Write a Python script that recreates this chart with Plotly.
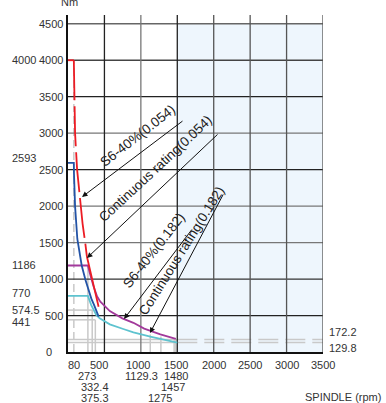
import numpy as np
import plotly.graph_objects as go

# ---------------- data ----------------
x_ticks = [80, 500, 1000, 1500, 2000, 2500, 3000, 3500]
x_row2 = [273, 1129.3, 1480]
x_row3 = [332.4, 1457]
x_row4 = [375.3, 1275]
y_ticks = [0, 500, 1000, 1500, 2000, 2500, 3000, 3500, 4000, 4500]
y_left_extra = [4000, 2593, 1186, 770, 574.5, 441]
y_right_extra = [172.2, 129.8]

# S6-40% (0.054) - red
red_top_rpm = [0, 80]
red_top_nm = [4000, 4000]
red_dash_rpm = [80, 84, 90, 97, 125, 168, 200, 236, 260]
red_dash_nm = [4000, 3700, 3400, 3000, 2500, 2050, 1760, 1500, 1305]
red_solid_rpm = [260, 300, 340, 380, 420]
red_solid_nm = [1305, 1120, 960, 790, 620]

# Continuous rating (0.054) - blue
blue_rpm = [0, 80, 82, 86, 97, 128, 160, 188, 240, 280, 319, 360, 388, 421]
blue_nm = [2593, 2593, 2450, 2250, 2000, 1550, 1330, 1186, 986, 850, 735, 640, 575, 484]

# S6-40% (0.182) - purple
pink_rpm = [0, 273, 300, 350, 400, 444, 574, 746, 898, 1046, 1268, 1480]
pink_nm = [1186, 1186, 1080, 900, 760, 690, 560, 461, 400, 320, 242, 180]

# Continuous rating (0.182) - cyan
cyan_rpm = [0, 273, 319, 388, 435, 574, 759, 898, 1129, 1360, 1500]
cyan_nm = [770, 770, 643, 507, 461, 379, 315, 270, 210, 164, 130]

label_texts = ["S6-40%(0.054)", "Continuous rating(0.054)",
               "S6-40%(0.182)", "Continuous rating(0.182)"]

# ---------------- layout constants ----------------
W, H = 386, 403
ML, MR, MT, MB = 68, 63, 15, 51
XMAX, YMAX = 3500, 4620
FONT = "Liberation Sans, Arial, Helvetica, sans-serif"
TXT = "#333333"
FS = 11

fig = go.Figure()

shapes = []
shapes.append(dict(type="rect", xref="x", yref="y", x0=1500, x1=3500, y0=0, y1=4500,
                   fillcolor="#EEF6FD", line=dict(width=0), layer="below"))

ref_col = "#C9C9C9"
def vref(x, y1, dash="solid"):
    shapes.append(dict(type="line", xref="x", yref="y", x0=x, x1=x, y0=0, y1=y1,
                       line=dict(color=ref_col, width=1.5, dash=dash), layer="below"))
def href(y, x0, x1, dash="solid"):
    shapes.append(dict(type="line", xref="x", yref="y", x0=x0, x1=x1, y0=y, y1=y,
                       line=dict(color=ref_col, width=1.5, dash=dash), layer="below"))

vref(80, 4000, dash="8px,4px")
vref(273, 1186)
vref(332.4, 574.5)
vref(375.3, 441)
for xv in [1129.3, 1275, 1457, 1480]:
    vref(xv, float(np.interp(xv, cyan_rpm, cyan_nm)) + 30)
href(574.5, 0, 332.4)
href(441, 0, 375.3)
for yv in y_right_extra:
    href(yv, 0, 1500)
    href(yv, 1500, 3500, dash="20px,7px")

hcol = {0: "#111", 500: "#222", 1000: "#333", 1500: "#777", 2000: "#777", 2500: "#222",
        3000: "#777", 3500: "#222", 4000: "#444", 4500: "#666"}
for yv in y_ticks[1:]:
    shapes.append(dict(type="line", xref="x", yref="y", x0=0, x1=3500, y0=yv, y1=yv,
                       line=dict(color=hcol[yv], width=1.3), layer="below"))
vcol = {500: "#222", 1000: "#777", 1500: "#222", 2000: "#555", 2500: "#555", 3000: "#555", 3500: "#555"}
for xv in x_ticks[1:]:
    shapes.append(dict(type="line", xref="x", yref="y", x0=xv, x1=xv, y0=0, y1=YMAX,
                       line=dict(color=vcol[xv], width=1.3), layer="below"))

lw = 1.8
RED, BLUE, PINK, CYAN = "#EC1C24", "#2353A6", "#A2399B", "#5EC3CF"
fig.add_trace(go.Scatter(x=cyan_rpm, y=cyan_nm, mode="lines", line=dict(color=CYAN, width=lw)))
fig.add_trace(go.Scatter(x=pink_rpm, y=pink_nm, mode="lines", line=dict(color=PINK, width=lw)))
fig.add_trace(go.Scatter(x=blue_rpm, y=blue_nm, mode="lines", line=dict(color=BLUE, width=lw)))
fig.add_trace(go.Scatter(x=red_top_rpm, y=red_top_nm, mode="lines", line=dict(color=RED, width=lw)))
fig.add_trace(go.Scatter(x=red_dash_rpm, y=red_dash_nm, mode="lines",
                         line=dict(color=RED, width=lw, dash="40px,6px")))
fig.add_trace(go.Scatter(x=red_solid_rpm, y=red_solid_nm, mode="lines", line=dict(color=RED, width=lw)))

ann = []
def tfont():
    return dict(size=FS, color=TXT, family=FONT)
for yv in y_ticks:
    if yv == 0:
        ann.append(dict(xref="paper", yref="y", x=0, y=yv, text="0", showarrow=False,
                        xanchor="center", yanchor="middle", xshift=-19, font=tfont()))
    else:
        ann.append(dict(xref="paper", yref="y", x=0, y=yv, text=str(yv), showarrow=False,
                        xanchor="right", yanchor="middle", xshift=-3, font=tfont()))
lshift = {4000: 0, 2593: 5, 1186: 0, 770: 3, 574.5: 0, 441: -2}
for yv in y_left_extra:
    ann.append(dict(xref="paper", yref="y", x=0, y=yv, text=f"{yv:g}", showarrow=False,
                    xanchor="left", yanchor="middle", xshift=-58, yshift=lshift[yv], font=tfont()))
rshift = {172.2: 7, 129.8: -5}
for yv in y_right_extra:
    ann.append(dict(xref="paper", yref="y", x=1, y=yv, text=f"{yv:g}", showarrow=False,
                    xanchor="left", yanchor="middle", xshift=4, yshift=rshift[yv], font=tfont()))
xshift = {80: 0, 500: -5, 1000: -3, 1500: -1, 1129.3: -9, 273: -1, 332.4: 3, 1457: -1, 1275: -1}
for row, ys in [(x_ticks, -13), (x_row2, -23.5), (x_row3, -34.5), (x_row4, -45.5)]:
    for xv in row:
        ann.append(dict(xref="x", yref="paper", x=xv, y=0, text=f"{xv:g}", showarrow=False,
                        xanchor="center", yanchor="middle", xshift=xshift.get(xv, 0), yshift=ys,
                        font=tfont()))
ann.append(dict(xref="paper", yref="paper", x=1, y=0, text="SPINDLE (rpm)", showarrow=False,
                xanchor="right", yanchor="middle", xshift=60, yshift=-45, font=tfont()))
ann.append(dict(xref="paper", yref="paper", x=0, y=1, text="Nm", showarrow=False,
                xanchor="center", yanchor="middle", xshift=1, yshift=13, font=tfont()))

arrows = [((192, 2125), (1592, 3181)),
          ((261, 1289), (2073, 3002)),
          ((769, 452), (1716, 1700)),
          ((1125, 260), (2141, 2180))]
for (tx, ty), (ax, ay) in arrows:
    ann.append(dict(xref="x", yref="y", x=tx, y=ty, ax=ax, ay=ay, axref="x", ayref="y",
                    text="", showarrow=True, arrowhead=2, arrowsize=1.1, arrowwidth=1,
                    arrowcolor="#111"))
label_pos = [(1002, 2920, -38), (1249, 2468, -43), (1235, 1344, -52), (1620, 1357, -58)]
OFF = 5
for t, (lx, ly, ang) in zip(label_texts, label_pos):
    th = np.deg2rad(-ang)
    ann.append(dict(xref="x", yref="y", x=lx, y=ly, text=t, showarrow=False, textangle=ang,
                    xanchor="center", yanchor="middle",
                    xshift=-np.sin(th) * OFF, yshift=np.cos(th) * OFF,
                    font=dict(size=13.5, color="#222", family=FONT)))

fig.update_layout(
    width=W, height=H, margin=dict(l=ML, r=MR, t=MT, b=MB),
    paper_bgcolor="white", plot_bgcolor="white", showlegend=False,
    shapes=shapes, annotations=ann,
    xaxis=dict(range=[0, XMAX], showgrid=False, zeroline=False, showticklabels=False,
               showline=True, linecolor="#111", linewidth=1.5, ticks=""),
    yaxis=dict(range=[0, YMAX], showgrid=False, zeroline=False, showticklabels=False,
               showline=True, linecolor="#111", linewidth=1.5, ticks=""),
)
fig.write_html("out.html")
